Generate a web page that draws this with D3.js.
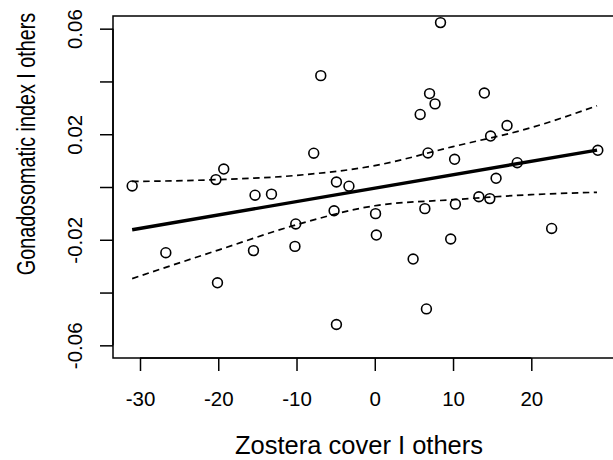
<!DOCTYPE html>
<html>
<head>
<meta charset="utf-8">
<script src="https://cdn.jsdelivr.net/npm/d3@7"></script>
<style>
  body { margin: 0; background: #fff; }
  text { font-family: "Liberation Sans", Arial, Helvetica, sans-serif; fill: #000; }
</style>
</head>
<body>
<div class="main"></div>
<script>
// data (partial residuals)
const zostera = [-31.0, -20.3, -19.3, -15.3, -13.2, -7.8, -6.9, 8.4, 7.0, 7.7,
  5.8, 14.0, 16.9, 14.8, 6.8, 10.2, 18.2, 28.5, 15.5, -4.9,
  -3.3, 13.3, 14.7, -10.1, -26.7, -15.5, -10.2, -20.1, -5.2, 0.1,
  6.4, 10.3, 0.2, 9.7, 22.6, 4.9, 6.6, -4.9];
const gsi = [0.0004, 0.0028, 0.0068, -0.0031, -0.0027, 0.0128, 0.0422, 0.0623, 0.0354, 0.0315,
  0.0275, 0.0356, 0.0233, 0.0193, 0.0129, 0.0105, 0.0092, 0.0139, 0.0033, 0.0019,
  0.0003, -0.0037, -0.0044, -0.0140, -0.0249, -0.0241, -0.0225, -0.0363, -0.0090, -0.0101,
  -0.0082, -0.0065, -0.0182, -0.0197, -0.0157, -0.0273, -0.0462, -0.0521];

// fitted line and confidence band
const fitX = [-31.0, 28.4];
const fitY = [-0.0162, 0.0140];
const bandX = [-31.0, -20, -10, 0, 10, 20, 28.4];
const upperY = [0.0021, 0.0028, 0.0044, 0.0081, 0.0153, 0.0225, 0.0308];
const lowerY = [-0.0347, -0.0239, -0.0143, -0.0071, -0.0048, -0.0029, -0.0020];

const xTicks = [-30, -20, -10, 0, 10, 20];
const yTicks = [-0.06, -0.04, -0.02, 0, 0.02, 0.04, 0.06];
const yTickLabels = ["-0.06", "", "-0.02", "", "0.02", "", "0.06"];

const w = 613;
const h = 460;
const padL = 113, padR = 616.6, padT = 16, padB = 358;

const xScale = d3.scaleLinear().domain([-33.45, 30.9]).range([padL, padR]);
const yScale = d3.scaleLinear().domain([-0.0648, 0.0648]).range([padB, padT]);

const svg = d3.select(".main")
  .append("svg")
  .attr("width", w)
  .attr("height", h);

// box
svg.append("rect")
  .attr("x", padL)
  .attr("y", padT)
  .attr("width", padR - padL)
  .attr("height", padB - padT)
  .attr("fill", "none")
  .attr("stroke", "#000")
  .attr("stroke-width", 1.5);

// x axis
const xAxis = d3.axisBottom(xScale)
  .tickValues(xTicks)
  .tickSize(13)
  .tickPadding(20)
  .tickFormat(d => d < 0 ? "-" + Math.abs(d) : String(d));

const gx = svg.append("g")
  .attr("transform", "translate(0," + padB + ")")
  .call(xAxis);
gx.select(".domain")
  .attr("d", "M" + xScale(-30) + ",0H" + xScale(20))
  .attr("stroke-width", 1.5);
gx.selectAll(".tick line").attr("stroke-width", 1.5);
gx.selectAll(".tick text")
  .style("font-size", "20.5px")
  .style("font-family", "Liberation Sans, Arial, sans-serif");

// y axis
const yAxis = d3.axisLeft(yScale)
  .tickValues(yTicks)
  .tickSize(13)
  .tickFormat((d, i) => yTickLabels[i]);

const gy = svg.append("g")
  .attr("transform", "translate(" + padL + ",0)")
  .call(yAxis);
gy.select(".domain")
  .attr("d", "M0," + yScale(-0.06) + "V" + yScale(0.06))
  .attr("stroke-width", 1.5);
gy.selectAll(".tick line").attr("stroke-width", 1.5);
gy.selectAll(".tick text")
  .attr("x", null)
  .attr("dy", null)
  .attr("text-anchor", "middle")
  .attr("transform", "translate(-31,0) rotate(-90)")
  .style("font-size", "20.5px")
  .style("font-family", "Liberation Sans, Arial, sans-serif");

// confidence band
const line = d3.line()
  .x(d => xScale(d[0]))
  .y(d => yScale(d[1]))
  .curve(d3.curveMonotoneX);

svg.append("path")
  .datum(bandX.map((x, i) => [x, upperY[i]]))
  .attr("d", line)
  .attr("fill", "none")
  .attr("stroke", "#000")
  .attr("stroke-width", 1.7)
  .attr("stroke-dasharray", "6.5,4.5");

svg.append("path")
  .datum(bandX.map((x, i) => [x, lowerY[i]]))
  .attr("d", line)
  .attr("fill", "none")
  .attr("stroke", "#000")
  .attr("stroke-width", 1.7)
  .attr("stroke-dasharray", "6.5,4.5");

// fitted line
svg.append("path")
  .datum(fitX.map((x, i) => [x, fitY[i]]))
  .attr("d", d3.line().x(d => xScale(d[0])).y(d => yScale(d[1])))
  .attr("fill", "none")
  .attr("stroke", "#000")
  .attr("stroke-width", 3.4);

// points
svg.selectAll("circle")
  .data(zostera)
  .enter()
  .append("circle")
  .attr("cx", d => xScale(d))
  .attr("cy", (d, i) => yScale(gsi[i]))
  .attr("r", 4.9)
  .attr("fill", "none")
  .attr("stroke", "#000")
  .attr("stroke-width", 1.6);

// axis titles
svg.append("text")
  .attr("x", 359)
  .attr("y", 454)
  .attr("text-anchor", "middle")
  .style("font-size", "25.5px")
  .text("Zostera cover I others");

svg.append("text")
  .attr("transform", "translate(35,144) rotate(-90) scale(0.76,1)")
  .attr("text-anchor", "middle")
  .style("font-size", "26px")
  .text("Gonadosomatic index I others");
</script>
</body>
</html>
